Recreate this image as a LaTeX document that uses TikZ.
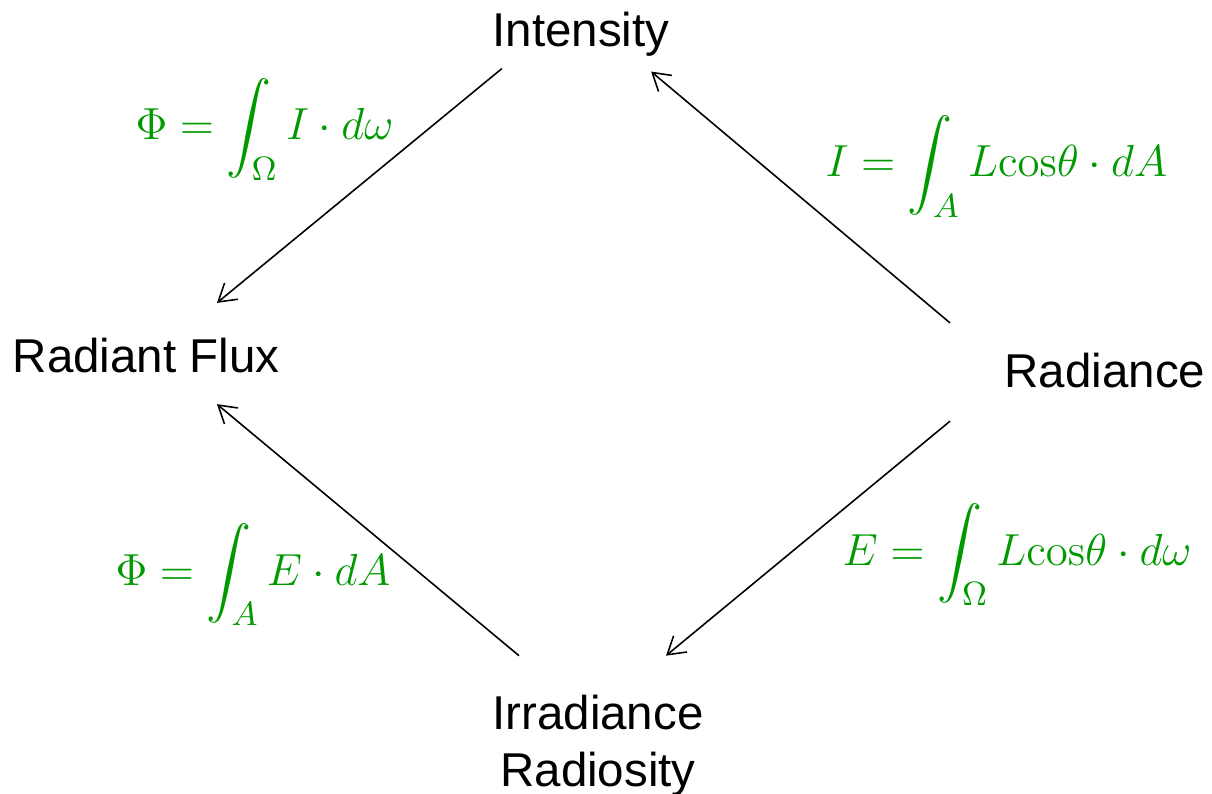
\documentclass[tikz,border=0pt]{standalone}
\usepackage[no-math]{fontspec}
\setmainfont{Liberation Sans}
\usepackage{amsmath}
\usetikzlibrary{arrows.meta}

\definecolor{eqgreen}{RGB}{0,153,0}
\newcommand{\eqn}[1]{\scalebox{1.065}{$\displaystyle #1$}}

\begin{document}
\begin{tikzpicture}[
    x=0.01cm, y=-0.01cm,
    >={Straight Barb[length=1.7mm,width=2.1mm]},
    quantity/.style={inner sep=0pt, anchor=base, font=\fontsize{13.5pt}{16.2pt}\selectfont},
    formula/.style={inner sep=0pt, anchor=base west, text=eqgreen, font=\fontsize{13pt}{16pt}\selectfont},
    link/.style={->, line width=0.45pt}
]

\useasboundingbox (0,0) rectangle (1212,794);

% -------------------------
% Quantities
% -------------------------
\node[quantity] (intensity) at (581, 47) {Intensity};
\node[quantity] (flux) at (146, 373) {Radiant Flux};
\node[quantity] (radiance) at (1105, 387) {Radiance};
\node[quantity, anchor=center, align=center] (irradiance) at (598, 746) {Irradiance\\Radiosity};

% -------------------------
% Relations
% -------------------------
\node[formula] (eqflux1) at (135, 140) {\eqn{\Phi = \int_{\Omega} I \cdot d\omega}};
\node[formula] (eqint) at (825, 177) {\eqn{I = \int_{A} L\mathrm{cos}\theta \cdot dA}};
\node[formula] (eqflux2) at (115, 585) {\eqn{\Phi = \int_{A} E \cdot dA}};
\node[formula] (eqirr) at (842, 565) {\eqn{E = \int_{\Omega} L\mathrm{cos}\theta \cdot d\omega}};

% -------------------------
% Links
% -------------------------

% intensity -> flux
\draw[link] ([shift={(10,11)}]intensity.south west) -- ([shift={(-63,-35)}]flux.north east);

% radiance -> intensity
\draw[link] ([shift={(-54,-29)}]radiance.north west) -- ([shift={(-19,14)}]intensity.south east);

% irradiance -> flux
\draw[link] ([shift={(-79,-39)}]irradiance.north) -- ([shift={(-63,30)}]flux.south east);

% radiance -> irradiance
\draw[link] ([shift={(-54,33)}]radiance.south west) -- ([shift={(68,-39)}]irradiance.north);

\end{tikzpicture}
\end{document}
